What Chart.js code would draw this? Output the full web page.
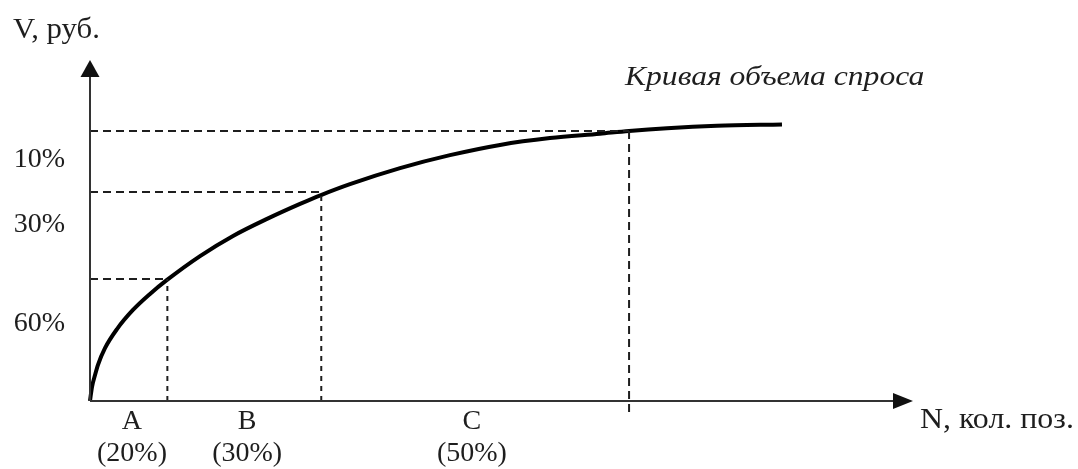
<!DOCTYPE html>
<html>
<head>
<meta charset="utf-8">
<script src="https://cdn.jsdelivr.net/npm/chart.js@4"></script>
<style>
  html, body { margin: 0; padding: 0; background: #fff; }
</style>
</head>
<body>
<canvas id="myChart" width="1078" height="469"></canvas>
<script>
// curve of demand volume (x = N, y = V)
const curveX = [0, 0.24, 0.61, 0.97, 1.82, 3.28, 5.22, 7.29, 9.36, 13.37, 17.38, 21.51, 25.52, 28.07, 31.59, 37.67, 43.74, 49.82, 55.89, 61.97, 65.49, 70.11, 76.18, 84.08];
const curveY = [0, 4.1, 7.6, 10.6, 15.5, 21.1, 26.7, 31.4, 35.5, 42.5, 48.4, 53.4, 57.8, 60.4, 63.6, 68.3, 72.1, 75.1, 77.1, 78.4, 79.2, 80.0, 80.7, 81.1];

// group boundaries A / B / C (dashed guides)
const boundX = [9.4, 28.1, 65.5];
const boundY = [35.8, 61.3, 79.2];
const boundBottom = [0, 0, -3.2];

// tick labels
const yTickValues = [70.7, 51.6, 22.7];
const yTickLabels = ['10%', '30%', '60%'];
const xTickValues = [5.1, 19.1, 46.4];
const xTickLabels = [['A', '(20%)'], ['B', '(30%)'], ['C', '(50%)']];

const yTitle = 'V, руб.';
const xTitle = 'N, кол. поз.';
const curveTitle = 'Кривая объема спроса';

const ink = '#1e1e1e';
const serif = "'Liberation Serif', 'Times New Roman', serif";

const datasets = [];
boundX.forEach((bx, i) => {
    datasets.push({
        data: [{x: 0, y: boundY[i]}, {x: bx, y: boundY[i]}],
        borderColor: ink,
        borderWidth: 2,
        borderDash: [8, 5],
        pointRadius: 0,
        clip: false
    });
    datasets.push({
        data: [{x: bx, y: boundBottom[i]}, {x: bx, y: boundY[i]}],
        borderColor: ink,
        borderWidth: 2,
        borderDash: i < 2 ? [5, 5] : [8, 5],
        pointRadius: 0,
        clip: false
    });
});
datasets.push({
    data: curveX.map((x, i) => ({x: x, y: curveY[i]})),
    borderColor: '#000',
    borderWidth: 4,
    cubicInterpolationMode: 'monotone',
    pointRadius: 0,
    clip: false
});

// stretched text, the original lettering is wider than Liberation Serif
function wideText(ctx, text, x, y, sx) {
    ctx.save();
    ctx.translate(x, y);
    ctx.scale(sx, 1);
    ctx.fillText(text, 0, 0);
    ctx.restore();
}

// axes with arrows + free text
const decor = {
    id: 'decor',
    afterDraw(chart) {
        const ctx = chart.ctx;
        const xs = chart.scales.x, ys = chart.scales.y;
        const x0 = xs.getPixelForValue(0), y0 = ys.getPixelForValue(0);
        const top = chart.chartArea.top, right = chart.chartArea.right;
        ctx.save();
        ctx.strokeStyle = '#333';
        ctx.fillStyle = '#111';
        ctx.lineWidth = 2;
        ctx.beginPath();
        ctx.moveTo(x0, y0);
        ctx.lineTo(x0, top + 10);
        ctx.moveTo(x0, y0);
        ctx.lineTo(right - 10, y0);
        ctx.stroke();
        // arrow heads
        ctx.beginPath();
        ctx.moveTo(x0, top);
        ctx.lineTo(x0 - 9.5, top + 17);
        ctx.lineTo(x0 + 9.5, top + 17);
        ctx.closePath();
        ctx.fill();
        ctx.beginPath();
        ctx.moveTo(right, y0);
        ctx.lineTo(right - 20, y0 - 8);
        ctx.lineTo(right - 20, y0 + 8);
        ctx.closePath();
        ctx.fill();

        ctx.fillStyle = ink;
        ctx.textBaseline = 'alphabetic';
        ctx.textAlign = 'left';
        ctx.font = '29px ' + serif;
        wideText(ctx, yTitle, 13, 38, 1.06);
        wideText(ctx, xTitle, 920, 428, 1.1);
        ctx.font = 'italic 28px ' + serif;
        wideText(ctx, curveTitle, 625, 85, 1.13);
        ctx.restore();
    }
};

const config = {
    type: 'line',
    data: { datasets: datasets },
    options: {
        responsive: false,
        animation: false,
        layout: { padding: { left: 0, top: 60, right: 165, bottom: 0 } },
        plugins: {
            legend: { display: false },
            tooltip: { enabled: false },
            title: { display: false }
        },
        scales: {
            x: {
                type: 'linear',
                min: 0,
                max: 100,
                grid: { display: false, drawTicks: false },
                border: { display: false },
                afterBuildTicks: (scale) => { scale.ticks = xTickValues.map(v => ({value: v})); },
                afterFit: (scale) => { scale.height = 68; },
                ticks: {
                    autoSkip: false,
                    maxRotation: 0,
                    padding: 5,
                    color: ink,
                    font: { family: serif, size: 28, lineHeight: 32 / 28 },
                    callback: (v, i) => xTickLabels[i]
                }
            },
            y: {
                type: 'linear',
                min: 0,
                max: 100,
                grid: { display: false, drawTicks: false },
                border: { display: false },
                afterBuildTicks: (scale) => { scale.ticks = yTickValues.map(v => ({value: v})); },
                afterFit: (scale) => { scale.width = 90; },
                ticks: {
                    autoSkip: false,
                    padding: 25,
                    color: ink,
                    font: { family: serif, size: 28 },
                    callback: (v, i) => yTickLabels[i]
                }
            }
        }
    },
    plugins: [decor]
};

var ctx = document.getElementById('myChart').getContext('2d');
var myChart = new Chart(ctx, config);
</script>
</body>
</html>
